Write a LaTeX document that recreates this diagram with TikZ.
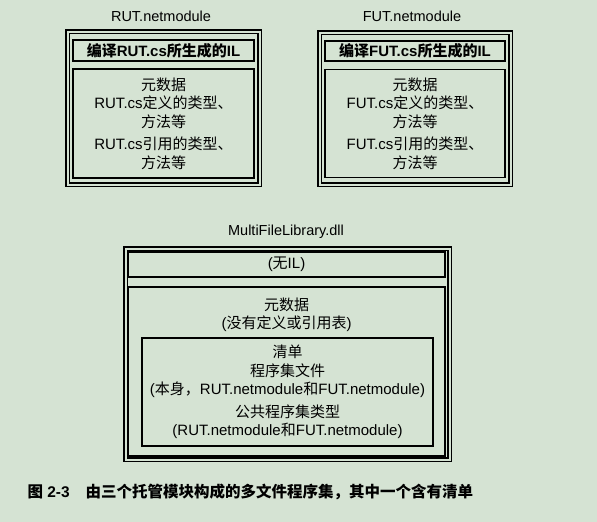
\documentclass[tikz,border=0pt]{standalone}
\usepackage{fontspec}
\setmainfont{Liberation Sans}
\newfontfamily\cjk{Noto Sans CJK SC}
\newcommand\zh[1]{{\cjk #1}}
\definecolor{page}{RGB}{213,227,211}
\begin{document}
\begin{tikzpicture}[x=1pt,y=-1pt,
    modbox/.style={draw, double=page, line width=1.5pt, double distance=2pt},
    partbox/.style={draw, line width=1.6pt, inner sep=0pt, align=center,
      font=\fontsize{15}{18.5}\selectfont},
    modname/.style={font=\fontsize{14.5}{16}\selectfont},
    boxtext/.style={align=center, font=\fontsize{15}{18.5}\selectfont},
    captext/.style={anchor=west, font=\bfseries\fontsize{15.5}{18}\selectfont}]
  \fill[page] (0,0) rectangle (597,522);
  \useasboundingbox (0,0) rectangle (597,522);
  % RUT.netmodule
  \node[modname] (rutname) at (161,16) {RUT.netmodule};
  \draw[modbox] (67.5,31.5) rectangle (259.5,184.5);
  \node[partbox, minimum width=181pt, minimum height=21pt] (rutil) at (163.5,50.5)
    {\bfseries\zh{编译}RUT.cs\zh{所生成的}IL};
  \node[partbox, minimum width=181pt, minimum height=109pt] (rutmeta) at (163.5,123.5)
    {\zh{元数据}\\RUT.cs\zh{定义的类型、}\\\zh{方法等}\\[4pt]RUT.cs\zh{引用的类型、}\\\zh{方法等}};
  % FUT.netmodule
  \node[modname] (futname) at (412,16) {FUT.netmodule};
  \draw[modbox] (319.5,32.5) rectangle (510.5,184.5);
  \node[partbox, minimum width=180pt, minimum height=20pt] (futil) at (415,51)
    {\bfseries\zh{编译}FUT.cs\zh{所生成的}IL};
  \node[partbox, minimum width=180pt, minimum height=108pt] (futmeta) at (415,123.5)
    {\zh{元数据}\\FUT.cs\zh{定义的类型、}\\\zh{方法等}\\[4pt]FUT.cs\zh{引用的类型、}\\\zh{方法等}};
  % MultiFileLibrary.dll
  \node[modname] (dllname) at (286,232) {MultiFileLibrary.dll};
  \draw[modbox] (125.5,248.5) rectangle (449.5,459.5);
  \node[partbox, minimum width=317pt, minimum height=25pt] (dllil) at (286.5,264.5)
    {(\zh{无}IL)};
  \node[partbox, minimum width=317pt, minimum height=169pt] (dllmeta) at (286.5,371.5) {};
  \node[boxtext] (dllmetatext) at (286.5,314.5) {\zh{元数据}\\(\zh{没有定义或引用表})};
  \node[partbox, minimum width=291pt, minimum height=108pt] (manifest) at (287.5,392)
    {\zh{清单}\\\zh{程序集文件}\\(\zh{本身，}RUT.netmodule\zh{和}FUT.netmodule)\\[4pt]
     \zh{公共程序集类型}\\(RUT.netmodule\zh{和}FUT.netmodule)};
  % caption
  \node[captext] (capnum) at (24,492) {\zh{图} 2-3};
  \node[captext] (captitle) at (82,492) {\zh{由三个托管模块构成的多文件程序集，其中一个含有清单}};
\end{tikzpicture}
\end{document}
